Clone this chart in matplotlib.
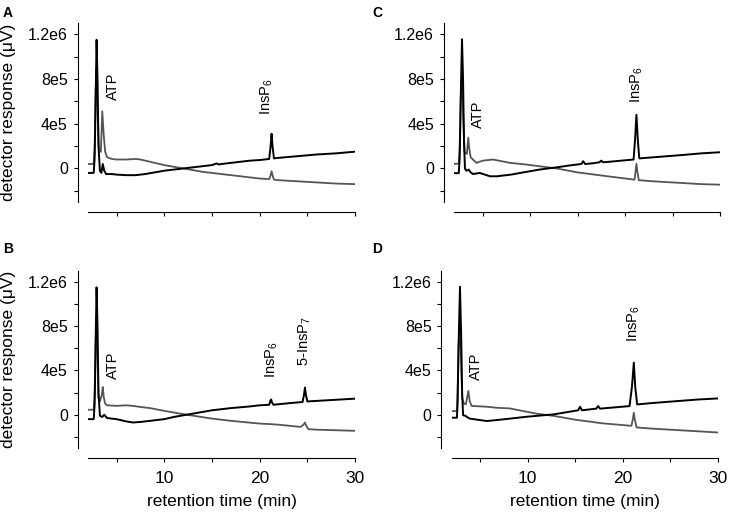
import matplotlib
matplotlib.use("Agg")
import matplotlib.pyplot as plt
import numpy as np

plt.rcParams['font.family'] = ['Liberation Sans', 'DejaVu Sans']
plt.rcParams['mathtext.fontset'] = 'custom'
plt.rcParams['mathtext.rm'] = 'Liberation Sans'
plt.rcParams['mathtext.it'] = 'Liberation Sans:italic'
plt.rcParams['mathtext.bf'] = 'Liberation Sans:bold'

# chromatogram traces, values (units of 1e5 uV)
a_black_t = [2.0, 2.6, 2.7, 2.8, 2.9, 3.0, 3.1, 3.25, 3.4, 3.55, 3.7, 3.9, 4.5, 5.0, 6.0, 7.0, 8.0, 9.0,
             10.0, 11.0, 12.0, 13.0, 14.0, 15.0, 15.5, 15.7, 16.0, 17.0, 18.0, 19.0, 20.0, 21.0, 21.15,
             21.25, 21.35, 21.5, 22.0, 24.0, 26.0, 28.0, 30.0]
a_black_v = [-0.4, -0.4, 1.0, 6.0, 11.5, 8.0, 2.0, -0.2, -0.4, 0.4, -0.2, -0.5, -0.5, -0.55, -0.6, -0.6,
             -0.5, -0.35, -0.2, -0.1, 0.0, 0.1, 0.2, 0.3, 0.45, 0.35, 0.4, 0.5, 0.6, 0.7, 0.75, 0.85, 2.0,
             3.1, 2.0, 0.9, 0.95, 1.1, 1.25, 1.35, 1.5]
a_gray_t = [2.0, 2.6, 2.7, 2.8, 2.9, 3.0, 3.15, 3.35, 3.5, 3.65, 3.8, 4.0, 4.5, 5.0, 6.0, 7.0, 7.5, 8.0,
            9.0, 10.0, 11.0, 12.0, 13.0, 14.0, 15.0, 16.0, 17.0, 18.0, 19.0, 20.0, 21.0, 21.15, 21.25,
            21.35, 21.5, 22.0, 24.0, 26.0, 28.0, 30.0]
a_gray_v = [0.4, 0.4, 2.0, 7.0, 9.0, 5.0, 1.5, 1.5, 5.1, 3.0, 1.5, 1.0, 0.85, 0.8, 0.8, 0.85, 0.8, 0.7,
            0.5, 0.3, 0.15, 0.0, -0.15, -0.3, -0.4, -0.5, -0.6, -0.7, -0.8, -0.9, -0.95, -0.6, -0.25,
            -0.6, -1.0, -1.05, -1.15, -1.25, -1.35, -1.4]

b_black_t = [2.0, 2.6, 2.7, 2.8, 2.9, 3.0, 3.1, 3.25, 3.5, 3.7, 4.0, 5.0, 6.0, 6.7, 7.5, 8.5, 10.0, 11.0,
             12.0, 13.0, 14.0, 15.0, 17.0, 19.0, 20.0, 21.0, 21.1, 21.2, 21.3, 21.45, 22.0, 23.2, 24.5,
             24.65, 24.75, 24.85, 25.0, 26.0, 28.0, 30.0]
b_black_v = [-0.4, -0.4, 1.0, 6.5, 11.5, 8.0, 2.0, -0.1, -0.2, 0.0, -0.3, -0.4, -0.6, -0.7, -0.65,
             -0.55, -0.4, -0.2, -0.05, 0.1, 0.25, 0.4, 0.6, 0.75, 0.85, 0.9, 1.2, 1.38, 1.1, 0.9, 0.95,
             1.05, 1.15, 1.8, 2.45, 1.8, 1.2, 1.25, 1.35, 1.45]
b_gray_t = [2.0, 2.6, 2.7, 2.8, 2.9, 3.0, 3.1, 3.25, 3.45, 3.55, 3.65, 3.8, 4.0, 5.0, 6.0, 6.7, 7.5, 8.5,
            10.0, 12.0, 15.0, 17.0, 20.0, 21.2, 22.0, 24.3, 24.6, 24.75, 24.9, 25.1, 26.0, 28.0, 30.0]
b_gray_v = [0.45, 0.45, 2.0, 6.5, 8.5, 5.0, 1.5, 1.2, 1.8, 2.5, 1.6, 1.0, 0.85, 0.8, 0.85, 0.8, 0.7,
            0.6, 0.35, 0.05, -0.35, -0.55, -0.8, -0.85, -0.9, -1.1, -0.9, -0.7, -1.0, -1.3, -1.35,
            -1.4, -1.45]

c_black_t = [2.0, 2.5, 2.6, 2.7, 2.84, 2.95, 3.05, 3.15, 3.3, 3.55, 3.7, 4.0, 4.7, 5.8, 6.5, 8.0, 9.3,
             11.0, 12.8, 14.0, 15.4, 15.6, 15.8, 16.5, 17.3, 17.5, 17.7, 19.0, 20.9, 21.05, 21.2, 21.35,
             21.5, 23.0, 26.0, 28.0, 30.0]
c_black_v = [-0.42, -0.42, 1.0, 6.0, 11.55, 8.0, 2.5, 0.0, -0.2, -0.1, -0.3, -0.5, -0.4, -0.7, -0.7,
             -0.55, -0.35, -0.1, 0.1, 0.25, 0.4, 0.65, 0.4, 0.45, 0.55, 0.7, 0.55, 0.65, 0.8, 2.5, 4.8,
             2.5, 0.9, 1.0, 1.2, 1.35, 1.45]
c_gray_t = [2.0, 2.5, 2.6, 2.7, 2.85, 2.95, 3.1, 3.35, 3.5, 3.6, 3.75, 4.35, 5.05, 6.1, 7.9, 9.6, 12.8,
            15.0, 17.7, 21.0, 21.1, 21.2, 21.3, 21.45, 23.0, 26.0, 28.0, 30.0]
c_gray_v = [0.42, 0.42, 2.0, 6.0, 9.0, 5.0, 1.5, 1.3, 2.75, 1.8, 1.0, 0.5, 0.7, 0.8, 0.5, 0.35, 0.0,
            -0.35, -0.65, -1.0, -0.3, 0.42, -0.3, -1.05, -1.15, -1.3, -1.4, -1.45]

d_black_t = [2.0, 2.55, 2.62, 2.72, 2.87, 3.0, 3.1, 3.2, 3.45, 3.6, 3.9, 5.7, 7.4, 9.9, 12.7, 15.3,
             15.5, 15.7, 17.2, 17.4, 17.6, 20.7, 20.95, 21.15, 21.3, 21.5, 23.0, 26.0, 28.0, 30.0]
d_black_v = [-0.27, -0.27, 1.0, 6.0, 11.55, 7.0, 2.0, -0.05, -0.1, -0.2, -0.35, -0.57, -0.42, -0.18,
             0.03, 0.4, 0.72, 0.4, 0.55, 0.78, 0.55, 0.78, 2.5, 4.7, 2.5, 0.93, 1.05, 1.25, 1.38, 1.47]
d_gray_t = [2.0, 2.55, 2.62, 2.72, 2.85, 2.98, 3.1, 3.3, 3.5, 3.75, 3.9, 4.1, 5.7, 6.7, 8.1, 10.9,
            12.7, 15.0, 17.9, 20.9, 21.05, 21.15, 21.25, 21.45, 23.0, 26.0, 28.0, 30.0]
d_gray_v = [0.33, 0.33, 2.0, 6.0, 8.7, 5.0, 1.5, 1.0, 0.95, 2.15, 1.2, 0.8, 0.72, 0.63, 0.57, 0.1,
            -0.1, -0.45, -0.78, -1.0, -0.4, 0.18, -0.4, -1.15, -1.25, -1.4, -1.5, -1.6]

# peak labels: (text, x, y bottom in 1e5)
a_labels = [("ATP", 4.57, 6.1), (r"InsP$_\mathrm{6}$", 20.8, 4.8)]
b_labels = [("ATP", 4.57, 3.2), (r"InsP$_\mathrm{6}$", 21.3, 3.35), (r"5-InsP$_\mathrm{7}$", 24.75, 4.4)]
c_labels = [("ATP", 4.47, 3.6), (r"InsP$_\mathrm{6}$", 21.26, 5.85)]
d_labels = [("ATP", 4.6, 3.1), (r"InsP$_\mathrm{6}$", 21.15, 6.6)]

panels = [
    ("A", [0.1207, 0.6115, 0.3663, 0.3442], a_black_t, a_black_v, a_gray_t, a_gray_v, a_labels, True, False),
    ("B", [0.1207, 0.1385, 0.3663, 0.3410], b_black_t, b_black_v, b_gray_t, b_gray_v, b_labels, True, True),
    ("C", [0.6228, 0.6115, 0.3649, 0.3442], c_black_t, c_black_v, c_gray_t, c_gray_v, c_labels, False, False),
    ("D", [0.6196, 0.1385, 0.3653, 0.3410], d_black_t, d_black_v, d_gray_t, d_gray_v, d_labels, False, True),
]
letter_pos = {"A": (0.004, 0.988), "B": (0.004, 0.534), "C": (0.511, 0.988), "D": (0.511, 0.534)}

fig = plt.figure(figsize=(7.29, 5.2), dpi=100)

for name, rect, bt, bv, gt, gv, labels, left_col, bottom_row in panels:
    ax = fig.add_axes(rect)
    ax.plot(gt, np.array(gv) * 1e5, color='#555555', lw=1.3)
    ax.plot(bt, np.array(bv) * 1e5, color='black', lw=1.4)
    for txt, x, y in labels:
        ax.text(x, y * 1e5, txt, rotation=90, ha='center', va='bottom', fontsize=10.5)

    ax.set_xlim(2, 30)
    ax.set_ylim(-3e5, 1.3e6)
    for s in ['top', 'right']:
        ax.spines[s].set_visible(False)
    ax.spines['left'].set_position(('outward', 7.5))
    ax.spines['bottom'].set_position(('outward', 7.5))
    ax.spines['left'].set_linewidth(0.8)
    ax.spines['bottom'].set_linewidth(0.8)

    ax.set_yticks([0, 4e5, 8e5, 1.2e6])
    ax.set_yticklabels(['0', '4e5', '8e5', '1.2e6'])
    ax.set_yticks([-2e5, 2e5, 6e5, 1e6], minor=True)
    ax.set_xticks([10, 20, 30])
    ax.set_xticks([5, 15, 25], minor=True)
    ax.tick_params(which='both', direction='out', length=3, width=0.8)
    ax.tick_params(axis='y', labelsize=11.5, pad=4)
    ax.tick_params(axis='x', labelsize=12.5, pad=6)
    if not bottom_row:
        ax.set_xticklabels([])
    else:
        ax.set_xlabel("retention time (min)", fontsize=12.5)
        ax.xaxis.set_label_coords(0.5, -0.262)
    if left_col:
        ax.set_ylabel("detector response (\u03bcV)", fontsize=12.5)
        ax.yaxis.set_label_coords(-0.27, 0.5)

    lx, ly = letter_pos[name]
    fig.text(lx, ly, name, fontsize=10, fontweight='bold', ha='left', va='top')

fig.savefig("out.png", dpi=100)
